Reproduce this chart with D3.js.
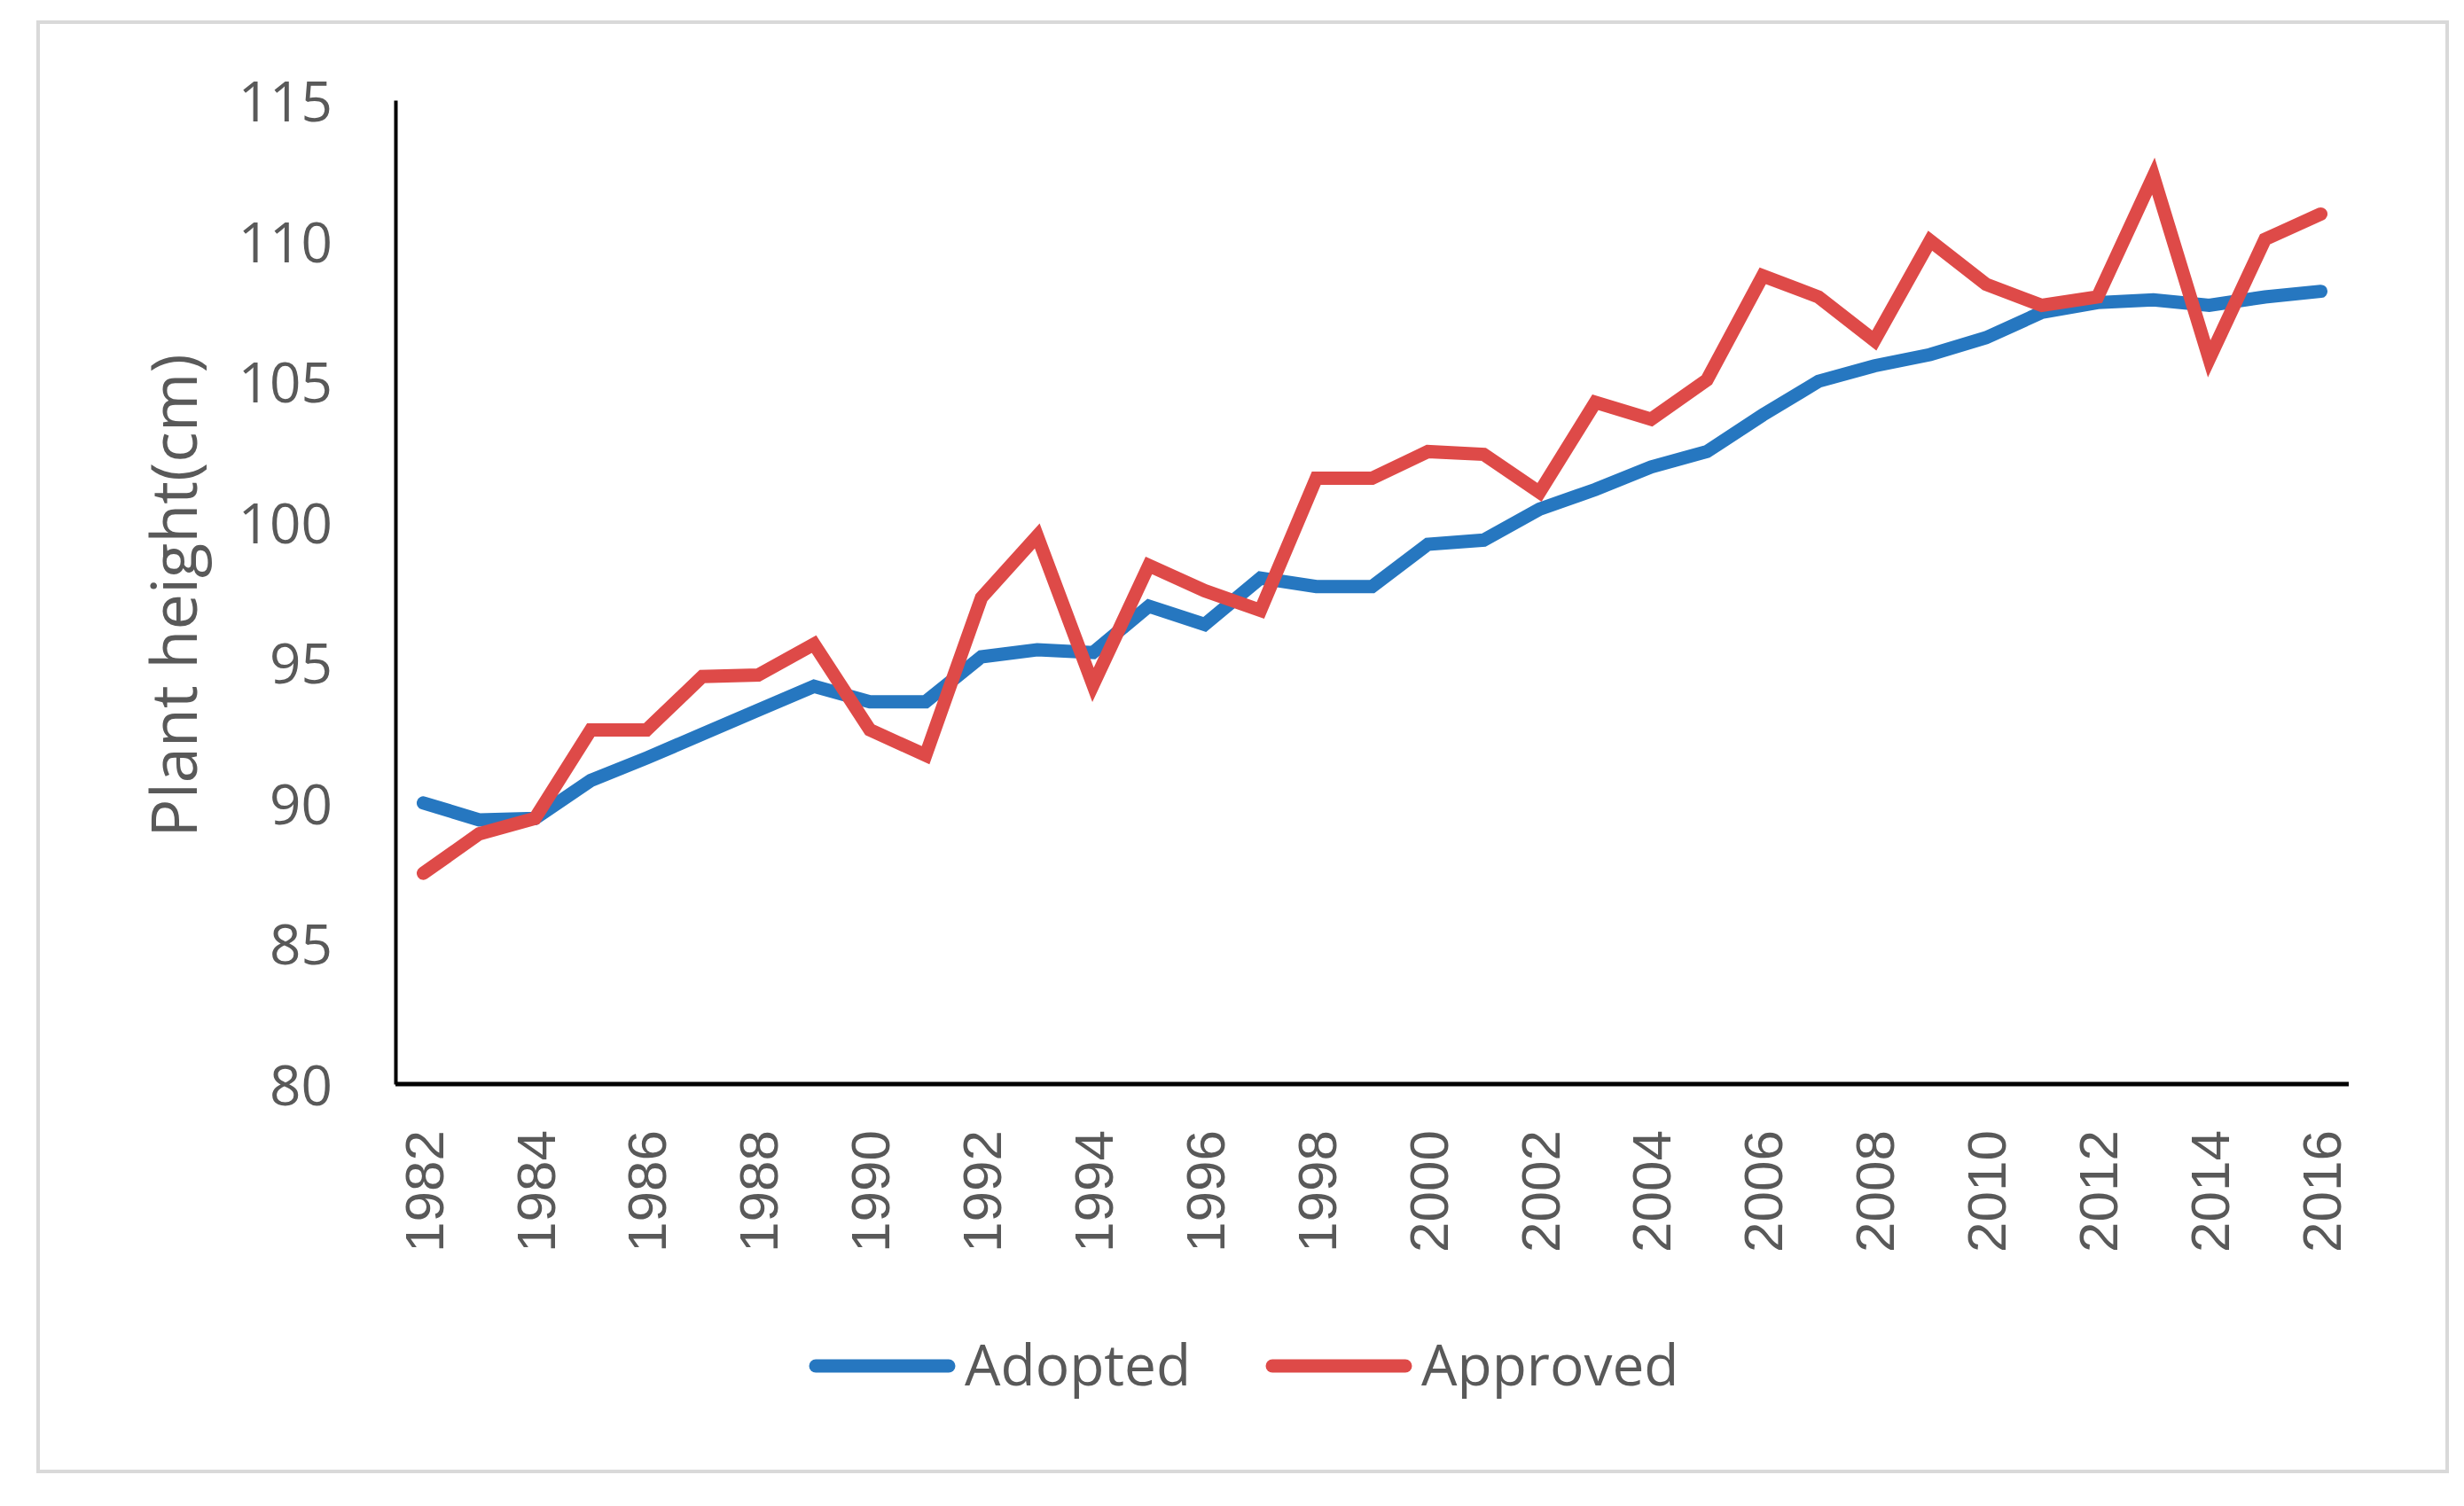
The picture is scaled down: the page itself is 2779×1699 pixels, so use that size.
<!DOCTYPE html>
<html>
<head>
<meta charset="utf-8">
<script src="https://cdn.jsdelivr.net/npm/d3@7"></script>
<style>
  body { margin: 0; background: #fff; }
</style>
</head>
<body>
<div id="container"></div>
<script>
const w = 2779,
    h = 1699;

// data
const years = d3.range(1982, 2017);
const adopted = [90.0, 89.4, 89.45, 90.8, 91.6, 92.45, 93.3, 94.15, 93.6, 93.6,
    95.2, 95.45, 95.35, 97.0, 96.35, 98.0, 97.7, 97.7, 99.2, 99.35,
    100.45, 101.15, 101.95, 102.5, 103.8, 105.0, 105.55, 105.95, 106.55, 107.45,
    107.8, 107.9, 107.7, 108.0, 108.2];
const approved = [87.5, 88.9, 89.45, 92.6, 92.6, 94.5, 94.55, 95.65, 92.6, 91.7,
    97.3, 99.5, 94.2, 98.45, 97.55, 96.85, 101.55, 101.55, 102.5, 102.4,
    101.05, 104.25, 103.65, 105.05, 108.75, 108.0, 106.45, 110.0, 108.45, 107.7,
    108.0, 112.3, 105.8, 110.05, 110.95];
const yTicks = [80, 85, 90, 95, 100, 105, 110, 115];
const xTickYears = years.filter(y => y % 2 == 0);
const seriesNames = ["Adopted", "Approved"];
const seriesColors = ["#2677C0", "#DE4A48"];

var svg = d3.select("div#container")
    .append("svg")
    .attr("width", w)
    .attr("height", h)
    .style("background-color", "#fff");

// outer frame
svg.append("rect")
    .attr("x", 43)
    .attr("y", 25)
    .attr("width", 2717)
    .attr("height", 1635)
    .style("fill", "#fff")
    .style("stroke", "#d9d9d9")
    .style("stroke-width", 4);

var x = d3.scalePoint()
    .domain(years)
    .range([446, 2649])
    .padding(0.5);

var y = d3.scaleLinear()
    .domain([80, 115])
    .range([1223, 113]);

// y axis
var yAxis = svg.append("g")
    .attr("transform", "translate(446,0)")
    .call(d3.axisLeft(y).tickValues(yTicks).tickSize(0).tickPadding(71));
yAxis.select(".domain").style("stroke", "#000").style("stroke-width", 4);
yAxis.selectAll("text")
    .attr("dy", "0.38em")
    .style("font-family", "'Open Sans', sans-serif")
    .style("font-size", "62px")
    .style("fill", "#595959");

// x axis
var xAxis = svg.append("g")
    .attr("transform", "translate(0,1223)")
    .call(d3.axisBottom(x).tickValues(xTickYears).tickSize(0));
xAxis.select(".domain").attr("d", "M446,0H2649").style("stroke", "#000").style("stroke-width", 5);
xAxis.selectAll("text")
    .attr("transform", "rotate(-90)")
    .attr("x", -52)
    .attr("y", 0)
    .attr("dy", "0.35em")
    .attr("text-anchor", "end")
    .style("font-family", "'Liberation Sans', Arial, sans-serif")
    .style("font-size", "62px")
    .style("fill", "#595959");

// y title
svg.append("text")
    .attr("transform", "translate(222,672) rotate(-90)")
    .attr("text-anchor", "middle")
    .style("font-family", "'Open Sans', sans-serif")
    .style("font-size", "72px")
    .style("fill", "#595959")
    .text("Plant height(cm)");

// lines
var line = d3.line()
    .x((d, i) => x(years[i]))
    .y(d => y(d));

[adopted, approved].forEach(function (vals, i) {
    svg.append("path")
        .datum(vals)
        .attr("fill", "none")
        .attr("stroke", seriesColors[i])
        .attr("stroke-width", 15)
        .attr("stroke-linejoin", "miter")
        .attr("stroke-linecap", "round")
        .attr("d", line);
});

// legend
var legendX = [912, 1427];
var legend = svg.append("g").attr("id", "legend");
seriesNames.forEach(function (name, i) {
    legend.append("line")
        .attr("x1", legendX[i] + 8)
        .attr("x2", legendX[i] + 158)
        .attr("y1", 1541)
        .attr("y2", 1541)
        .style("stroke", seriesColors[i])
        .style("stroke-width", 15)
        .style("stroke-linecap", "round");
    legend.append("text")
        .attr("x", legendX[i] + 176)
        .attr("y", 1563)
        .style("font-family", "'Open Sans', sans-serif")
        .style("font-size", "64px")
        .style("fill", "#595959")
        .text(name);
});
</script>
</body>
</html>
